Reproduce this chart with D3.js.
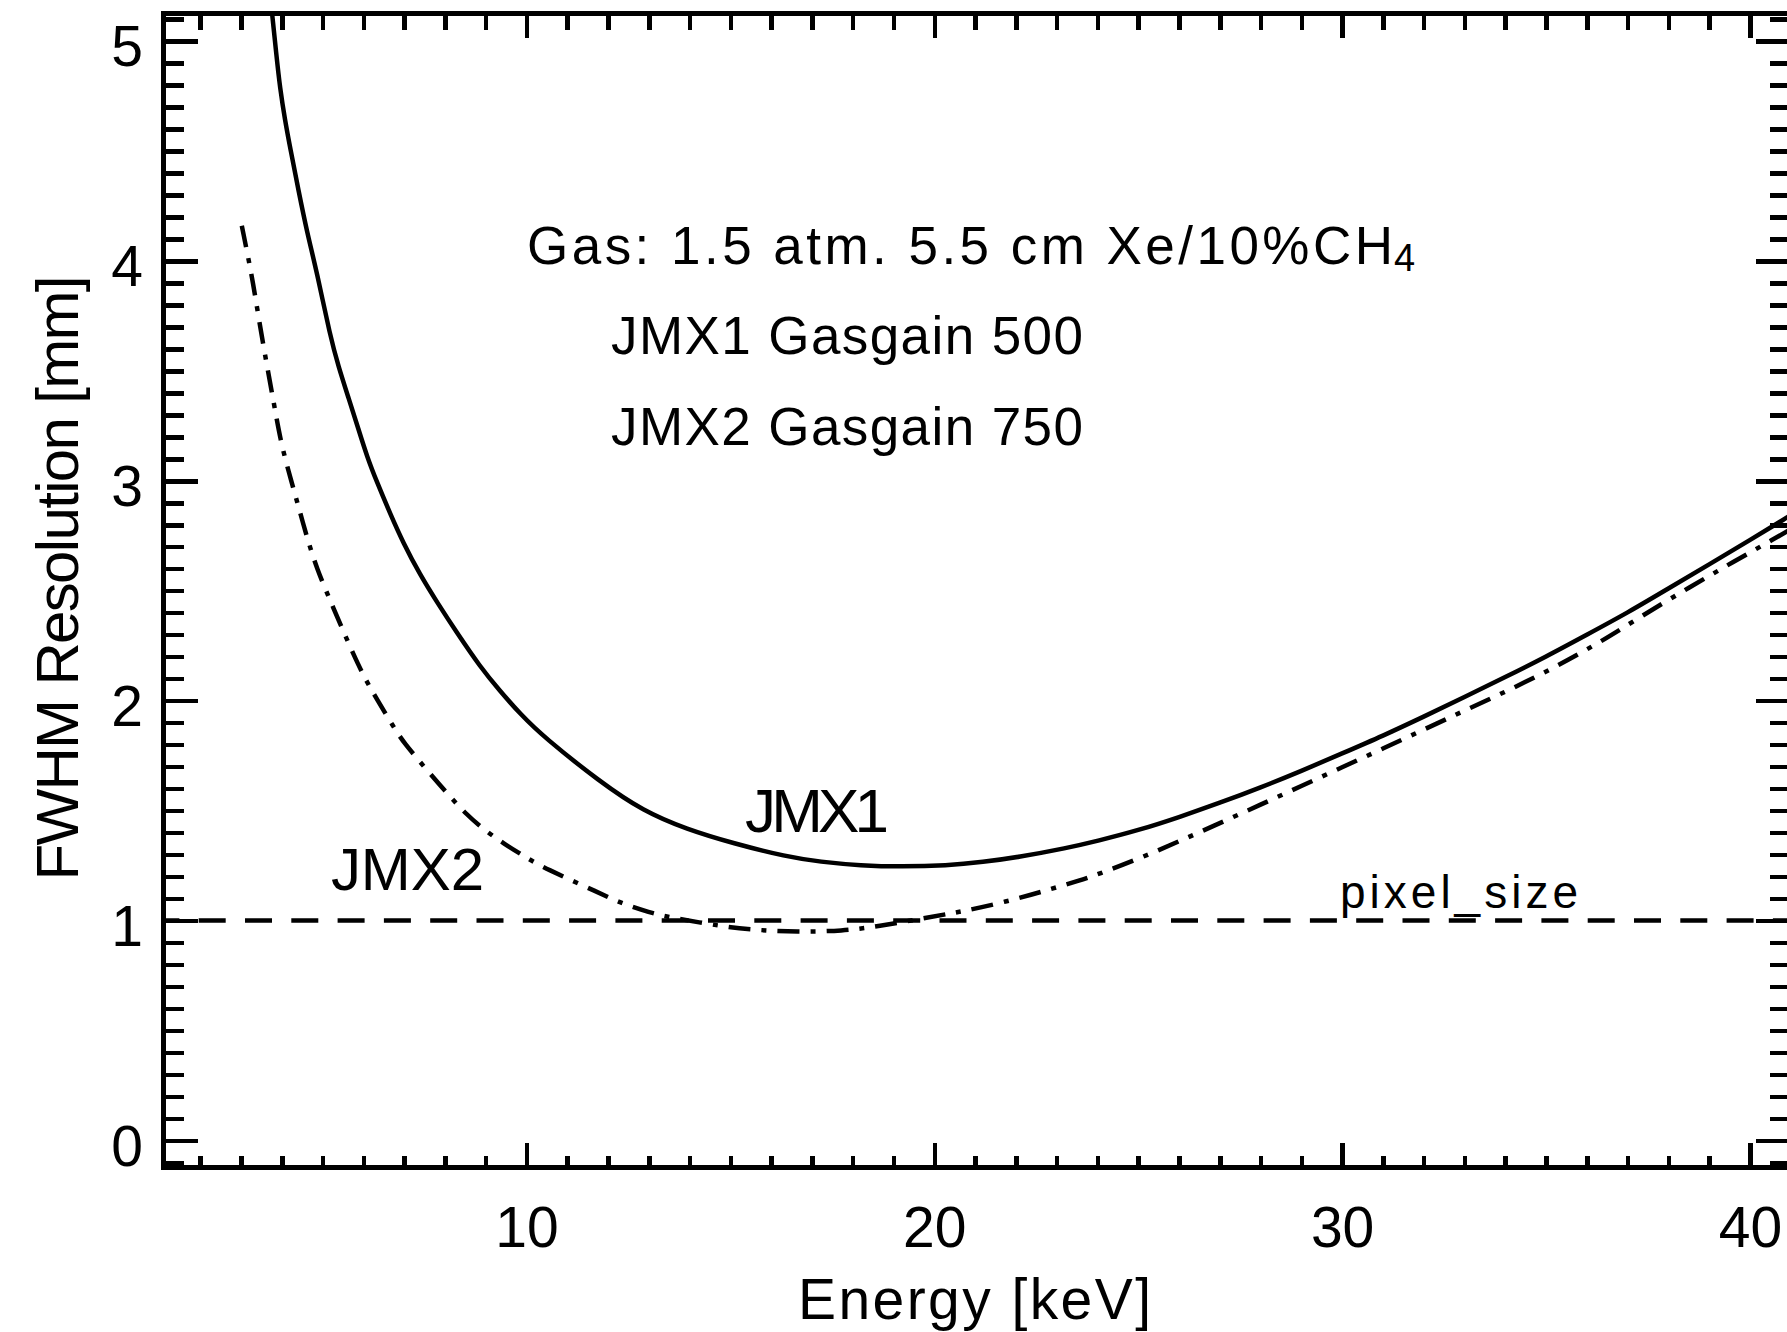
<!DOCTYPE html>
<html><head><meta charset="utf-8">
<script src="https://cdn.jsdelivr.net/npm/d3@7"></script>
<style>
html,body{margin:0;padding:0;background:#fff;overflow:hidden}
svg{display:block}
text{font-family:"Liberation Sans",Arial,sans-serif;fill:#000}
</style></head><body>
<svg id="chart" width="1787" height="1332"></svg>
<script>
// ---- data ----
const jmx1Energy = [3.76,3.86,3.96,4.08,4.21,4.41,4.62,4.86,5.19,5.39,5.64,5.88,6.09,6.33,6.66,6.98,7.39,7.80,8.29,8.86,9.35,9.85,10.42,11.81,12.86,13.93,15.07,16.38,17.2,18.2,19.2,20.3,21.2,22.05,23.26,24.0,25,26,27,28,29,30,31,32,33,34,35,36,37,38,39,40,40.97];
const jmx1Fwhm   = [5.13,4.95,4.78,4.64,4.51,4.32,4.13,3.95,3.655,3.52,3.375,3.235,3.11,2.995,2.85,2.717,2.573,2.45,2.31,2.155,2.044,1.939,1.835,1.63,1.498,1.415,1.351,1.29,1.267,1.25,1.245,1.25,1.266,1.288,1.33,1.362,1.41,1.47,1.535,1.605,1.68,1.76,1.84,1.927,2.016,2.107,2.20,2.30,2.40,2.51,2.62,2.73,2.84];
const jmx2Energy = [3.02,3.27,3.39,3.59,3.81,3.96,4.17,4.37,4.62,4.86,5.19,5.51,5.88,6.17,6.78,6.98,7.56,8.05,8.54,8.95,9.44,10.01,10.42,11.81,12.30,13.03,13.52,14.79,15.48,16.66,17.76,18.59,19.90,20.46,21.12,22.05,22.84,23.57,24.01,25,26,27,28,29,30,31,32,33,34.12,35.23,36.32,37.38,38.53,39.59,40.65,40.97];
const jmx2Fwhm   = [4.16,3.93,3.79,3.57,3.35,3.19,3.04,2.91,2.74,2.60,2.455,2.315,2.16,2.055,1.869,1.812,1.684,1.579,1.48,1.415,1.35,1.285,1.24,1.124,1.08,1.036,1.014,0.974,0.958,0.948,0.953,0.972,1.016,1.034,1.058,1.10,1.142,1.183,1.21,1.28,1.36,1.443,1.527,1.612,1.697,1.782,1.868,1.955,2.05,2.153,2.265,2.389,2.517,2.631,2.742,2.776];
const pixelSizeEnergy = [1.1, 40.97];
const pixelSizeFwhm = [1, 1];
const xDomain = [1.1, 40.97];
const yDomain = [-0.123, 5.125];
const xMajorTicks = [10, 20, 30, 40];
const yMajorTicks = [0, 1, 2, 3, 4, 5];
const xTitle = "Energy [keV]";
const yTitle = "FWHM Resolution [mm]";
const noteLine1 = "Gas: 1.5 atm. 5.5 cm Xe/10%CH";
const noteLine1Sub = "4";
const noteLine2 = "JMX1 Gasgain 500";
const noteLine3 = "JMX2 Gasgain 750";
const seriesLabel1 = "JMX1";
const seriesLabel2 = "JMX2";
const pixelLabel = "pixel_size";

// ---- layout ----
const W = 1787, H = 1332;
const L = 163.5, R = 1789.5, T = 13.5, B = 1167.5;
const SW = 4.5;
const svg = d3.select("#chart");
svg.append("rect").attr("width", W).attr("height", H).attr("fill", "#fff");

const x = d3.scaleLinear().domain(xDomain).range([L, R]);
const y = d3.scaleLinear().domain(yDomain).range([B, T]);

const xMinor = d3.range(2, 41).filter(v => !xMajorTicks.includes(v));
const yMinor = d3.range(-1, 52).map(v => v / 10).filter(v => !yMajorTicks.includes(v));

function styleAxis(g) {
  g.select(".domain").remove();
  g.selectAll(".tick line").attr("stroke", "#000").attr("stroke-width", SW).attr("shape-rendering", "crispEdges");
  g.selectAll("text").attr("font-size", 57).attr("font-family", '"Liberation Sans",Arial,sans-serif').attr("fill", "#000");
}

// bottom
svg.append("g").attr("transform", `translate(0,${B})`)
  .call(d3.axisBottom(x).tickValues(xMinor).tickSizeInner(-11.5).tickSizeOuter(0).tickFormat("")).call(styleAxis);
svg.append("g").attr("transform", `translate(0,${B})`)
  .call(d3.axisBottom(x).tickValues(xMajorTicks).tickSizeInner(-24.5).tickSizeOuter(0).tickPadding(39.5).tickFormat(d3.format("d"))).call(styleAxis);
// top
svg.append("g").attr("transform", `translate(0,${T})`)
  .call(d3.axisTop(x).tickValues(xMinor).tickSizeInner(-16).tickSizeOuter(0).tickFormat("")).call(styleAxis);
svg.append("g").attr("transform", `translate(0,${T})`)
  .call(d3.axisTop(x).tickValues(xMajorTicks).tickSizeInner(-24.5).tickSizeOuter(0).tickFormat("")).call(styleAxis);
// left
svg.append("g").attr("transform", `translate(${L},0)`)
  .call(d3.axisLeft(y).tickValues(yMinor).tickSizeInner(-20).tickSizeOuter(0).tickFormat("")).call(styleAxis);
const yl = svg.append("g").attr("transform", `translate(${L},0)`)
  .call(d3.axisLeft(y).tickValues(yMajorTicks).tickSizeInner(-34).tickSizeOuter(0).tickPadding(20.5).tickFormat(d3.format("d"))).call(styleAxis);
yl.selectAll("text").attr("dy", 25);
// right
svg.append("g").attr("transform", `translate(${R},0)`)
  .call(d3.axisRight(y).tickValues(yMinor).tickSizeInner(-19.5).tickSizeOuter(0).tickFormat("")).call(styleAxis);
svg.append("g").attr("transform", `translate(${R},0)`)
  .call(d3.axisRight(y).tickValues(yMajorTicks).tickSizeInner(-33.5).tickSizeOuter(0).tickFormat("")).call(styleAxis);

// frame
svg.append("rect").attr("x", L).attr("y", T).attr("width", R - L).attr("height", B - T)
  .attr("fill", "none").attr("stroke", "#000").attr("stroke-width", SW).attr("shape-rendering", "crispEdges");

// clip
svg.append("clipPath").attr("id", "plotclip").append("rect")
  .attr("x", L).attr("y", T).attr("width", R - L).attr("height", B - T);
const plot = svg.append("g").attr("clip-path", "url(#plotclip)");

const line = d3.line().x(d => x(d[0])).y(d => y(d[1])).curve(d3.curveBasis);
const s1 = jmx1Energy.map((e, i) => [e, jmx1Fwhm[i]]);
const s2 = jmx2Energy.map((e, i) => [e, jmx2Fwhm[i]]);
const s3 = pixelSizeEnergy.map((e, i) => [e, pixelSizeFwhm[i]]);

plot.append("path").datum(s3).attr("d", line).attr("fill", "none").attr("stroke", "#000")
  .attr("stroke-width", SW).attr("stroke-dasharray", "27,19.3").attr("stroke-dashoffset", 11.1);
plot.append("path").datum(s1).attr("d", line).attr("fill", "none").attr("stroke", "#000")
  .attr("stroke-width", SW).attr("stroke-linejoin", "round");
plot.append("path").datum(s2).attr("d", line).attr("fill", "none").attr("stroke", "#000")
  .attr("stroke-width", SW).attr("stroke-dasharray", "22,11,5,11");

// titles
svg.append("text").attr("x", 974.5).attr("y", 1319).attr("text-anchor", "middle")
  .attr("font-size", 57).attr("textLength", 353).text(xTitle);
svg.append("text").attr("transform", "translate(77.5,578) rotate(-90)").attr("text-anchor", "middle")
  .attr("font-size", 60).attr("textLength", 605).text(yTitle);

// annotations
svg.append("text").attr("x", 527).attr("y", 264).attr("font-size", 53).attr("textLength", 866).text(noteLine1);
svg.append("text").attr("x", 1394).attr("y", 271).attr("font-size", 38).text(noteLine1Sub);
svg.append("text").attr("x", 611).attr("y", 354).attr("font-size", 53).attr("textLength", 472).text(noteLine2);
svg.append("text").attr("x", 611).attr("y", 445).attr("font-size", 53).attr("textLength", 472).text(noteLine3);

svg.append("text").attr("x", 745).attr("y", 832).attr("font-size", 62).attr("textLength", 144).text(seriesLabel1);
svg.append("text").attr("x", 331).attr("y", 890).attr("font-size", 60).attr("textLength", 153).text(seriesLabel2);
svg.append("text").attr("x", 1340).attr("y", 908).attr("font-size", 46).attr("textLength", 238).text(pixelLabel);
</script>
</body></html>
